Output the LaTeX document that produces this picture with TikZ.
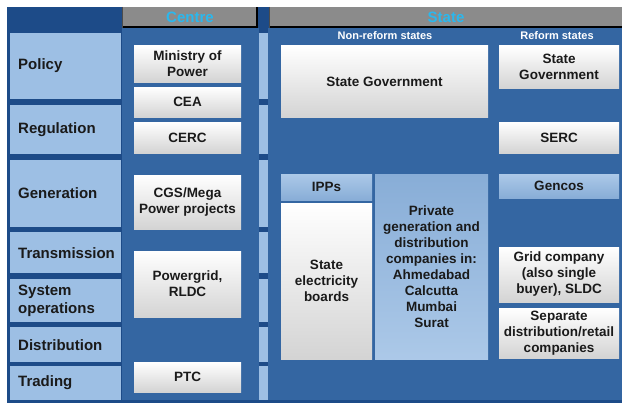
\documentclass[tikz,border=0pt]{standalone}
\usepackage{fontspec}
\setmainfont{Liberation Sans}
\definecolor{navy}{HTML}{1D4B88}
\definecolor{midblue}{HTML}{3466A2}
\definecolor{paleblue}{HTML}{9DBFE4}
\definecolor{hdrgray}{HTML}{8B8B8B}
\definecolor{hdrtext}{HTML}{2AB8EE}
\definecolor{inktext}{HTML}{1A1A1A}
\begin{document}
\begin{tikzpicture}[x=1pt,y=-1pt,
  box/.style={inner sep=0pt, align=center, text=inktext,
    font=\fontsize{13.5}{16}\selectfont\bfseries},
  wbox/.style={box, top color=white, bottom color=black!17},
  lbox/.style={box, top color=paleblue!85!white, bottom color=paleblue!80!midblue},
  lboxup/.style={box, top color=paleblue!80!midblue, bottom color=paleblue!85!white},
  rowlab/.style={anchor=west, inner sep=0pt, align=left, text=inktext,
    font=\fontsize{15}{18}\selectfont\bfseries},
  hdr/.style={inner sep=0pt, text=hdrtext, font=\fontsize{15}{17}\selectfont\bfseries},
  subhdr/.style={inner sep=0pt, text=white, font=\fontsize{11}{13}\selectfont\bfseries},
]
\useasboundingbox (0,0) rectangle (626,404);

% backgrounds
\fill[navy] (7,7) rectangle (622,403);
\fill[midblue] (122,28) rectangle (259,400);
\fill[midblue] (268,28) rectangle (622,400);

% column headers
\fill[hdrgray] (122,7) rectangle (258,28);
\fill[hdrgray] (269,7) rectangle (622,28);
\draw[black, line width=2pt] (123,27) -- (257,27) -- (257,7);
\draw[black, line width=2pt] (270,27) -- (622,27);
\draw[black!70, line width=0.6pt] (122.3,7) -- (122.3,28);
\draw[black!70, line width=0.6pt] (269.3,7) -- (269.3,28);
\node[hdr] (centrehdr) at (190,17) {Centre};
\node[hdr] (statehdr) at (446,17) {State};
\node[subhdr] (nonreform) at (385,36) {Non-reform states};
\node[subhdr] (reform) at (557,36) {Reform states};

% row bands: label column and the divider strip
\foreach \ya/\yb in {33/99,105/154,160/227,232/273,279/322,327/362,366/400}{
  \fill[paleblue] (10,\ya) rectangle (121,\yb);
  \fill[paleblue] (259,\ya) rectangle (268,\yb);
}
\node[rowlab] (policy) at (18,66) {Policy};
\node[rowlab] (regulation) at (18,130) {Regulation};
\node[rowlab] (generation) at (18,193.5) {Generation};
\node[rowlab] (transmission) at (18,253) {Transmission};
\node[rowlab] (sysops) at (18,301) {System\\operations};
\node[rowlab] (distribution) at (18,345.5) {Distribution};
\node[rowlab] (trading) at (18,383) {Trading};

% centre bodies
\node[wbox, minimum width=107, minimum height=36] (mop) at (187.5,64) {Ministry of\\Power};
\node[wbox, minimum width=107, minimum height=30] (cea) at (187.5,102) {CEA};
\node[wbox, minimum width=107, minimum height=31] (cerc) at (187.5,137.5) {CERC};
\node[wbox, minimum width=107, minimum height=54] (cgs) at (187.5,202) {CGS/Mega\\Power projects};
\node[wbox, minimum width=107, minimum height=66] (pgrid) at (187.5,284) {Powergrid,\\RLDC};
\node[wbox, minimum width=107, minimum height=30] (ptc) at (187.5,377) {PTC};

% non-reform states
\node[wbox, minimum width=207, minimum height=71] (sgov) at (384.5,81.5) {State Government};
\node[lbox, minimum width=91, minimum height=26] (ipps) at (326.5,187) {IPPs};
\node[wbox, minimum width=91, minimum height=156] (seb) at (326.5,281) {State\\electricity\\boards};
\node[lboxup, minimum width=113, minimum height=185] (private) at (431.5,266.5)
  {Private\\generation and\\distribution\\companies in:\\Ahmedabad\\Calcutta\\Mumbai\\Surat};

% reform states
\node[wbox, minimum width=120, minimum height=42] (rsgov) at (559,67) {State\\Government};
\node[wbox, minimum width=120, minimum height=31] (serc) at (559,137.5) {SERC};
\node[lbox, minimum width=120, minimum height=24] (gencos) at (559,186) {Gencos};
\node[wbox, minimum width=120, minimum height=55] (grid) at (559,274.5) {Grid company\\(also single\\buyer), SLDC};
\node[wbox, minimum width=120, minimum height=50] (retail) at (559,333) {Separate\\distribution/retail\\companies};
\end{tikzpicture}
\end{document}
